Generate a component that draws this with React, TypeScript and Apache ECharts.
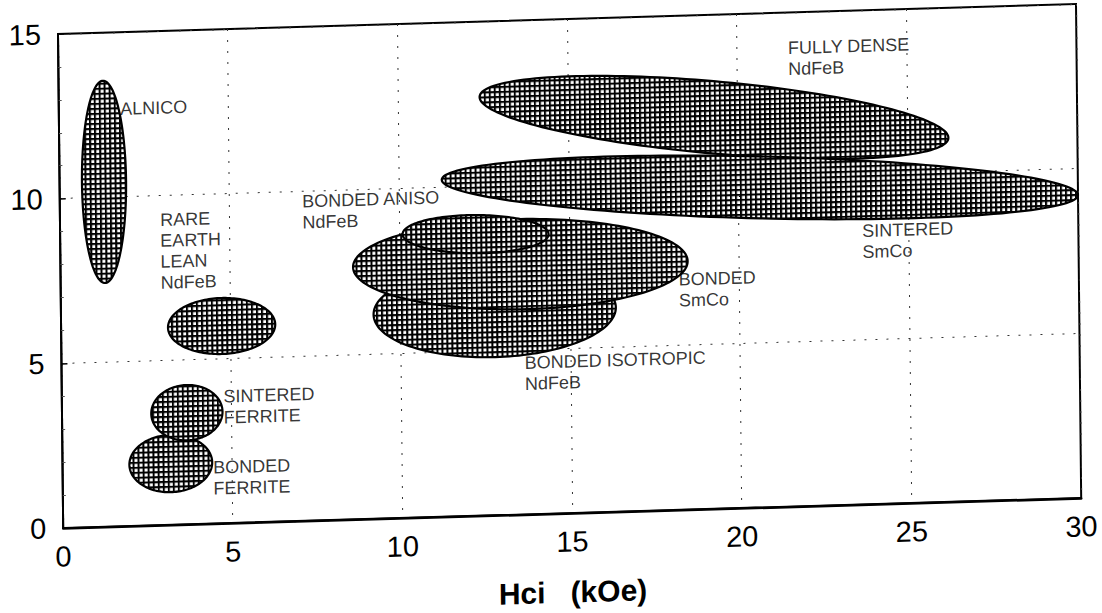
import React, { useEffect, useRef } from "react";
import * as echarts from "echarts";

// Axis ticks
const xTickValues = [0, 5, 10, 15, 20, 25, 30];
const yTickValues = [0, 5, 10, 15];

// Property regions (ellipses) in data units: Hci (kOe) vs Br
const regionNames = [
  "BONDED ISOTROPIC NdFeB",
  "BONDED SmCo",
  "BONDED ANISO NdFeB",
  "ALNICO",
  "RARE EARTH LEAN NdFeB",
  "BONDED FERRITE",
  "SINTERED FERRITE",
  "FULLY DENSE NdFeB",
  "SINTERED SmCo",
];
const centerHci = [12.78, 13.55, 12.24, 1.31, 4.73, 3.19, 3.68, 19.3, 20.63];
const centerBr = [6.2, 7.6, 8.55, 10.47, 5.99, 1.86, 3.39, 11.88, 9.715];
const halfSpanHci = [3.57, 4.93, 2.15, 0.65, 1.58, 1.22, 1.05, 6.9, 9.37];
const halfSpanBr = [1.4, 1.37, 0.58, 3.07, 0.85, 0.87, 0.84, 1.1, 0.94];
const tiltBrPerHci = [0, -0.012, -0.03, 0, 0, 0, 0, -0.12, -0.055];

// Region captions, anchored (left-middle) at data coordinates
const labelTexts = [
  "ALNICO",
  "RARE\nEARTH\nLEAN\nNdFeB",
  "BONDED ANISO\nNdFeB",
  "FULLY DENSE\nNdFeB",
  "SINTERED\nSmCo",
  "BONDED\nSmCo",
  "BONDED ISOTROPIC\nNdFeB",
  "SINTERED\nFERRITE",
  "BONDED\nFERRITE",
];
const labelHci = [1.81, 2.95, 7.14, 21.5, 23.63, 18.21, 13.65, 4.76, 4.44];
const labelBr = [12.67, 8.31, 9.38, 13.6, 7.98, 6.67, 4.28, 3.53, 1.38];

const FONT = "'Liberation Sans', Arial, Helvetica, sans-serif";

function makePattern() {
  const c = document.createElement("canvas");
  c.width = 5;
  c.height = 5;
  const g = c.getContext("2d")!;
  g.fillStyle = "#ffffff";
  g.fillRect(0, 0, 5, 5);
  g.fillStyle = "#000000";
  g.fillRect(0, 0, 5, 2);
  g.fillRect(0, 0, 2, 5);
  return { image: c, repeat: "repeat", imageWidth: 5, imageHeight: 5 } as any;
}

export default function App() {
  const ref = useRef<HTMLDivElement>(null);

  useEffect(() => {
    if (!ref.current) return;
    const chart = echarts.init(ref.current, null, { renderer: "svg" });
    const pattern = makePattern();

    const regionData = regionNames.map((n, i) => ({
      name: n,
      value: [centerHci[i], centerBr[i], halfSpanHci[i], halfSpanBr[i], tiltBrPerHci[i]],
    }));
    const labelData = labelTexts.map((t, i) => ({ name: t, value: [labelHci[i], labelBr[i]] }));

    const gridLine = { color: "#333", width: 1, type: [2, 9] as any };

    chart.setOption({
      animation: false,
      backgroundColor: "#ffffff",
      grid: {
        left: 60,
        top: 40,
        width: 1018,
        height: 494,
        show: true,
        borderColor: "#000",
        borderWidth: 2,
        backgroundColor: "transparent",
        containLabel: false,
        outerBoundsMode: "none",
      },
      xAxis: {
        type: "value",
        min: xTickValues[0],
        max: xTickValues[xTickValues.length - 1],
        interval: 5,
        name: "Hci   (kOe)",
        nameLocation: "middle",
        nameGap: 64,
        nameTextStyle: { fontFamily: FONT, fontSize: 30, fontWeight: "bold", color: "#000" },
        axisLine: { lineStyle: { color: "#000", width: 2.5 } },
        axisTick: { show: false },
        axisLabel: { fontFamily: FONT, fontSize: 29, color: "#000", margin: 14 },
        splitLine: { show: true, lineStyle: gridLine },
      },
      yAxis: {
        type: "value",
        min: yTickValues[0],
        max: yTickValues[yTickValues.length - 1],
        interval: 5,
        axisLine: { show: true, lineStyle: { color: "#000", width: 2 } },
        axisTick: { show: true, inside: true, length: 6, lineStyle: { color: "#000", width: 1.5 } },
        minorTick: { show: true, splitNumber: 5, length: 3, lineStyle: { color: "#555", width: 1 } },
        axisLabel: { fontFamily: FONT, fontSize: 29, color: "#000", margin: 17 },
        splitLine: { show: true, lineStyle: gridLine },
      },
      series: [
        {
          type: "custom",
          name: "regions",
          coordinateSystem: "cartesian2d",
          clip: false,
          encode: { x: 0, y: 1 },
          data: regionData,
          z: 3,
          renderItem: (params: any, api: any) => {
            const cx = api.value(0);
            const cy = api.value(1);
            const rx = api.value(2);
            const ry = api.value(3);
            const s = api.value(4);
            const pts: number[][] = [];
            const N = 160;
            for (let k = 0; k < N; k++) {
              const t = (k / N) * Math.PI * 2;
              const u = cx + rx * Math.cos(t);
              const v = cy + ry * Math.sin(t) + s * rx * Math.cos(t);
              pts.push(api.coord([u, v]));
            }
            return {
              type: "polygon",
              shape: { points: pts },
              style: { fill: pattern, stroke: "#000", lineWidth: 2.2 },
            };
          },
        },
        {
          type: "scatter",
          name: "captions",
          data: labelData,
          symbolSize: 0,
          z: 5,
          label: {
            show: true,
            position: "right",
            distance: 0,
            formatter: (p: any) => p.name,
            fontFamily: FONT,
            fontSize: 18,
            lineHeight: 21,
            color: "#000",
            align: "left",
            verticalAlign: "middle",
          },
        },
      ],
    });

    return () => chart.dispose();
  }, []);

  return (
    <div
      style={{
        position: "fixed",
        left: 0,
        top: 0,
        width: 1102,
        height: 613,
        overflow: "hidden",
        background: "#fff",
      }}
    >
      <div
        ref={ref}
        style={{
          width: 1102,
          height: 650,
          transformOrigin: "0 0",
          transform: "matrix(1, -0.0295, 0.0105, 1, -2.42, -4.23)",
        }}
      />
    </div>
  );
}
